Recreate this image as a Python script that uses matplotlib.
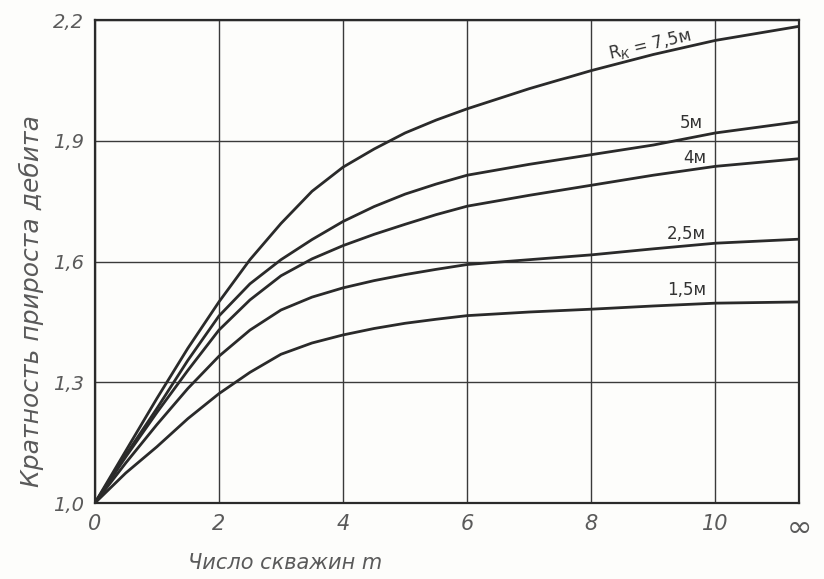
import matplotlib
matplotlib.use("Agg")
import matplotlib.pyplot as plt

# x positions, last point is "infinity"
x_inf = 11.35
m_wells = [0, 0.5, 1, 1.5, 2, 2.5, 3, 3.5, 4, 4.5, 5, 5.5, 6, 7, 8, 9, 10, x_inf]

# ratio of flow-rate increase for each contour radius
r_75 = [1.0, 1.13, 1.26, 1.385, 1.50, 1.605, 1.695, 1.775, 1.835, 1.88, 1.92, 1.952, 1.98, 2.03, 2.075, 2.115, 2.15, 2.185]
r_5 = [1.0, 1.12, 1.235, 1.355, 1.465, 1.545, 1.605, 1.655, 1.70, 1.737, 1.768, 1.793, 1.815, 1.842, 1.866, 1.89, 1.92, 1.948]
r_4 = [1.0, 1.115, 1.225, 1.33, 1.43, 1.505, 1.565, 1.607, 1.64, 1.668, 1.693, 1.717, 1.738, 1.765, 1.79, 1.815, 1.837, 1.856]
r_25 = [1.0, 1.10, 1.195, 1.285, 1.365, 1.43, 1.48, 1.512, 1.535, 1.553, 1.568, 1.581, 1.593, 1.605, 1.617, 1.632, 1.646, 1.656]
r_15 = [1.0, 1.075, 1.14, 1.21, 1.272, 1.325, 1.37, 1.398, 1.418, 1.434, 1.447, 1.457, 1.466, 1.475, 1.482, 1.49, 1.497, 1.50]

curves = [r_75, r_5, r_4, r_25, r_15]
curve_labels = ["R$_К$ = 7,5м", "5м", "4м", "2,5м", "1,5м"]
label_pos = [(8.95, 2.14), (9.8, 1.944), (9.85, 1.857), (9.85, 1.668), (9.85, 1.53)]
label_rot = [13, 0, 0, 0, 0]

x_ticks = [0, 2, 4, 6, 8, 10, x_inf]
x_tick_labels = ["0", "2", "4", "6", "8", "10", "∞"]
y_ticks = [1.0, 1.3, 1.6, 1.9, 2.2]
y_tick_labels = ["1,0", "1,3", "1,6", "1,9", "2,2"]

font = {"family": "DejaVu Sans", "style": "italic", "color": "#5a5a5a"}

fig = plt.figure(figsize=(8.24, 5.79), dpi=100)
fig.patch.set_facecolor("#fdfdfb")
ax = fig.add_axes([0.115, 0.131, 0.855, 0.834])
ax.set_facecolor("#fdfdfb")

for vals in curves:
    ax.plot(m_wells, vals, color="#2a2a2a", linewidth=2.0, solid_capstyle="round",
            solid_joinstyle="round")

for text, (lx, ly), rot in zip(curve_labels, label_pos, label_rot):
    ha = "center" if rot else "right"
    ax.text(lx, ly, text, fontsize=12, ha=ha, va="center", rotation=rot,
            family="DejaVu Sans", color="#333333")

ax.set_xlim(0, x_inf)
ax.set_ylim(1.0, 2.2)
ax.set_xticks(x_ticks)
ax.set_xticklabels(x_tick_labels, fontdict=font, fontsize=15)
ax.set_yticks(y_ticks)
ax.set_yticklabels(y_tick_labels, fontdict=font, fontsize=14)
ax.tick_params(length=0, pad=8)
ax.get_xticklabels()[-1].set_fontsize(22)
ax.get_xticklabels()[-1].set_style("normal")

ax.grid(True, color="#3a3a3a", linewidth=1.0)
ax.set_axisbelow(True)
for s in ax.spines.values():
    s.set_color("#2a2a2a")
    s.set_linewidth(1.6)

fig.text(0.346, 0.028, "Число скважин m", fontsize=15, ha="center", va="center", **font)
fig.text(0.038, 0.48, "Кратность прироста дебита", fontsize=18, ha="center", va="center",
         rotation=90, **font)

plt.savefig("out.png", dpi=100, facecolor=fig.get_facecolor())
plt.close(fig)
